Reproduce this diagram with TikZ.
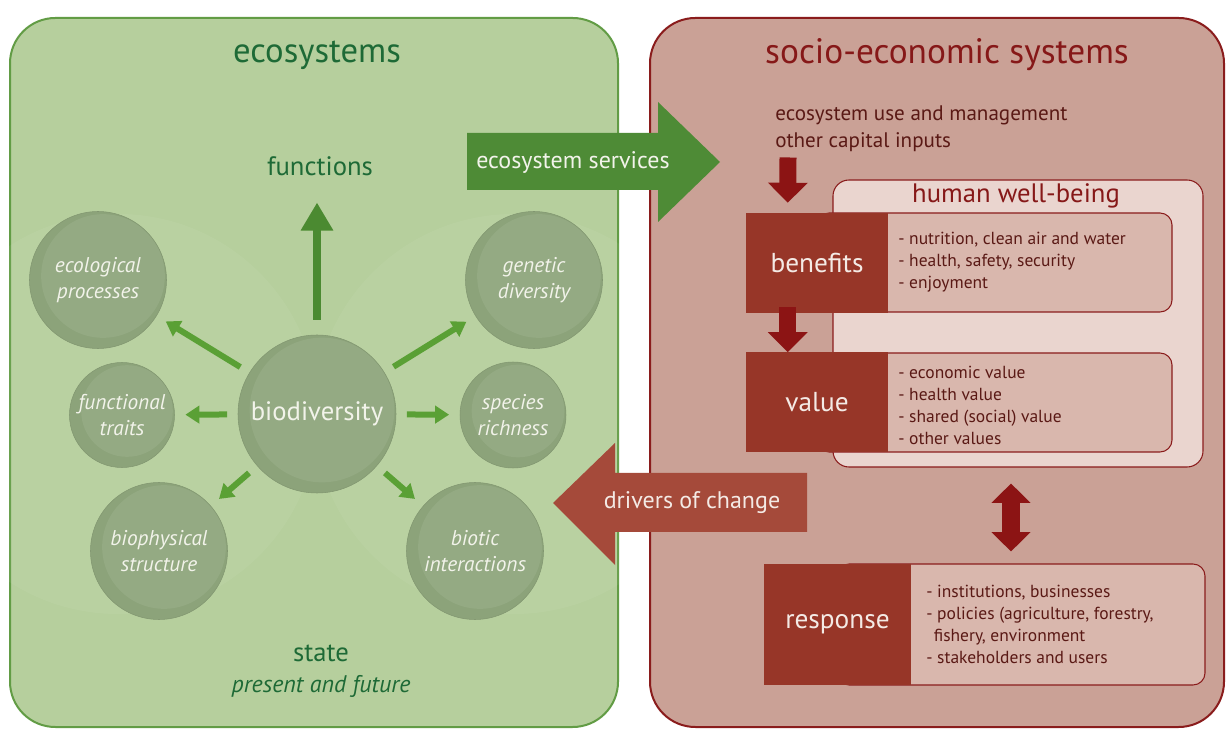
\documentclass[tikz,border=0pt]{standalone}
\usepackage{fontspec}
\setmainfont{PT Sans}
\usetikzlibrary{arrows.meta,calc}
\definecolor{gpanel}{HTML}{B6CF9D}
\definecolor{gborder}{HTML}{629C45}
\definecolor{gtitle}{HTML}{1E6A36}
\definecolor{gbig}{HTML}{4B8A31}
\definecolor{gsmall}{HTML}{5AA035}
\definecolor{bubblefill}{HTML}{8CA37A}
\definecolor{bubblelite}{HTML}{94AA83}
\definecolor{bubtext}{HTML}{F2F3EA}
\definecolor{rpanel}{HTML}{CAA196}
\definecolor{rborder}{HTML}{8A1C1C}
\definecolor{rtitle}{HTML}{861818}
\definecolor{rtext}{HTML}{5A1915}
\definecolor{hwbfill}{HTML}{EAD5CF}
\definecolor{contfill}{HTML}{D9B7AD}
\definecolor{labfill}{HTML}{973628}
\definecolor{labtext}{HTML}{F4EAE5}
\definecolor{drvfill}{HTML}{A54A3A}
\definecolor{darrow}{HTML}{8C1414}
\definecolor{esfill}{HTML}{4E8B36}
\begin{document}
\begin{tikzpicture}[x=0.75pt,y=-0.75pt,
  panel/.style={rounded corners=34pt, line width=1.5pt, inner sep=0},
  bubble/.style={circle, inner sep=0, minimum size=#1, fill=bubblefill,
    draw=bubblefill!92!black, line width=0.4pt, text=bubtext, align=center,
    font=\itshape\fontsize{16}{19.5}\selectfont,
    path picture={\fill[bubblelite] ($(path picture bounding box.center)+(5,-4)$) circle[radius=#1/2-5pt];}},
  sarrow/.style={gsmall, line width=4.5pt, -{Triangle[width=13pt,length=10.5pt]},
    shorten <=8pt, shorten >=8pt},
  darr/.style={darrow, line width=12.75pt, -{Triangle[width=29pt,length=15pt]}},
  dbl/.style={darrow, line width=13pt, {Triangle[width=28.5pt,length=14.5pt]}-{Triangle[width=28.5pt,length=14.5pt]}},
  cont/.style={fill=contfill, draw=rborder, line width=0.8pt, rounded corners=9pt, inner sep=0},
  lab/.style={fill=labfill, text=labtext, inner sep=0, font=\fontsize{20.5}{24}\selectfont},
  list/.style={text=rtext, align=left, inner sep=0, font=\fontsize{13.1}{16.5}\selectfont},
]
\useasboundingbox (0,0) rectangle (1228,730);
\fill[white] (0,0) rectangle (1228,730);

% ---------------- left panel
\node[panel, fill=gpanel, draw=gborder, minimum width=456pt, minimum height=531.75pt] (lp) at (314,372.5) {};
\begin{scope}
  \clip[rounded corners=34pt] (lp.south west) rectangle (lp.north east);
  \fill[white, opacity=0.05] (118,414) circle[radius=150pt];
  \fill[white, opacity=0.05] (514,414) circle[radius=150pt];
\end{scope}

\node[font=\fontsize{26}{30}\selectfont, text=gtitle] (ttlL) at (317,55) {ecosystems};
\node[font=\fontsize{20}{24}\selectfont, text=gtitle, inner sep=0] (func) at (320,166) {functions};
\node[font=\fontsize{20}{24}\selectfont, text=gtitle, inner sep=0] (state) at (321,653) {state};
\node[font=\itshape\fontsize{18}{22}\selectfont, text=gtitle, inner sep=0] (future) at (321,686) {present and future};

\node[bubble=118.5pt, font=\fontsize{20}{24}\selectfont] (bio) at (317,414) {biodiversity};
\node[bubble=102.75pt] (eco) at (98,280) {ecological\\processes};
\node[bubble=78.75pt] (fun) at (122,415) {functional\\traits};
\node[bubble=102.75pt] (bph) at (159,551) {biophysical\\structure};
\node[bubble=102.75pt] (gen) at (534,280) {genetic\\diversity};
\node[bubble=79.5pt] (spe) at (513,415) {species\\richness};
\node[bubble=102.75pt] (bit) at (475,551) {biotic\\interactions};

\draw[gbig, line width=6pt, -{Triangle[width=23pt,length=21pt]}, shorten <=11.25pt, shorten >=20pt]
  (bio.north) -- (bio.north |- func.south);
\draw[sarrow] (bio) -- (eco);
\draw[sarrow] (bio) -- (fun);
\draw[sarrow] (bio) -- (bph);
\draw[sarrow] (bio) -- (gen);
\draw[sarrow] (bio) -- (spe);
\draw[sarrow] (bio) -- (bit);

% ---------------- right panel
\node[panel, fill=rpanel, draw=rborder, minimum width=430.5pt, minimum height=531.75pt] (rp) at (937,372.5) {};
\node[font=\fontsize{26.5}{30}\selectfont, text=rtitle] (ttlR) at (947,55) {socio-economic systems};
\node[anchor=north west, align=left, inner sep=0, text=rtext, font=\fontsize{15.8}{20.25}\selectfont]
  (use) at (775,105) {ecosystem use and management\\other capital inputs};

\node[fill=hwbfill, draw=rborder, line width=0.8pt, rounded corners=12pt, inner sep=0,
  minimum width=277.5pt, minimum height=215.25pt] (hwb) at (1018,323.5) {};
\node[font=\fontsize{20}{24}\selectfont, text=rtitle, inner sep=0] (hwbt) at (1016,196) {human well-being};

\node[cont, minimum width=266.25pt, minimum height=74.25pt] (bencont) at (994.5,262.5) {};
\node[lab, minimum width=106.5pt, minimum height=75pt] (benlab) at (817,263) {benefits};
\node[list, anchor=west] (benlist) at (898,262) {- nutrition, clean air and water\\- health, safety, security\\- enjoyment};

\node[cont, minimum width=266.25pt, minimum height=74.25pt] (valcont) at (994.5,402.5) {};
\node[lab, minimum width=106.5pt, minimum height=75pt] (vallab) at (817,402.5) {value};
\node[list, anchor=west] (vallist) at (898,405) {- economic value\\- health value\\- shared (social) value\\- other values};

\node[cont, minimum width=276pt, minimum height=90.75pt] (respcont) at (1021,624.5) {};
\node[lab, minimum width=110.25pt, minimum height=90.75pt] (resplab) at (837.5,624.5) {response};
\node[list, anchor=west] (resplist) at (926,624.5) {- institutions, businesses\\- policies (agriculture, forestry,\\\ \,fishery, environment\\- stakeholders and users};

\draw[darr] ($(use.south west)+(13,6)$) -- ($(benlab.north west)+(42,-10)$);
\draw[darr] ($(benlab.south west)+(42,-6)$) -- ($(vallab.north west)+(42,0)$);
\draw[dbl] ($(hwb.south)+(-7,16)$) -- ($(respcont.north)+(-10,-12)$);

% ---------------- block arrows between panels
\coordinate (esc) at (562,162);
\fill[esfill] ($(esc)+(-95,-29)$) -- ($(esc)+(96,-29)$) -- ($(esc)+(96,-60)$) -- ($(esc)+(158,0)$)
  -- ($(esc)+(96,60)$) -- ($(esc)+(96,28)$) -- ($(esc)+(-95,28)$) -- cycle;
\node[text=bubtext, inner sep=0, font=\fontsize{18}{22}\selectfont] (es) at ($(esc)+(11,0)$) {ecosystem services};

\coordinate (drvc) at (711,503);
\fill[drvfill] ($(drvc)+(96,-30)$) -- ($(drvc)+(-96,-30)$) -- ($(drvc)+(-96,-60)$) -- ($(drvc)+(-158,0)$)
  -- ($(drvc)+(-96,62)$) -- ($(drvc)+(-96,29)$) -- ($(drvc)+(96,29)$) -- cycle;
\node[text=labtext, inner sep=0, font=\fontsize{18}{22}\selectfont] (drv) at ($(drvc)+(-19,0)$) {drivers of change};
\end{tikzpicture}
\end{document}
